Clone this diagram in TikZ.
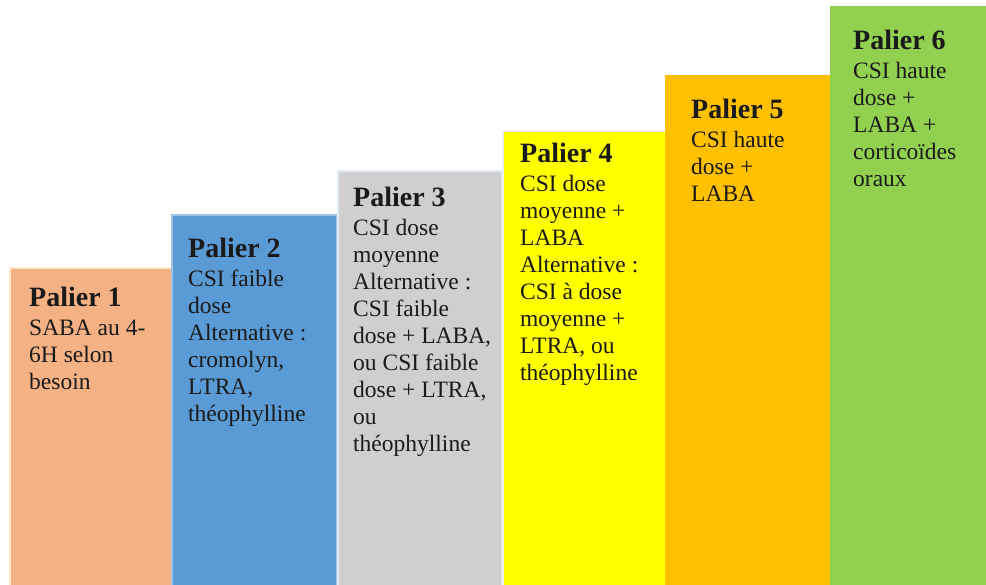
\documentclass[tikz,border=0pt]{standalone}
\usepackage{fontspec}
\setmainfont{Liberation Serif}
\usetikzlibrary{positioning}
\definecolor{pal1}{HTML}{F4B183}
\definecolor{pal2}{HTML}{5B9BD5}
\definecolor{pal3}{HTML}{D0CECE}
\definecolor{pal4}{HTML}{FFFF00}
\definecolor{pal5}{HTML}{FFC000}
\definecolor{pal6}{HTML}{92D050}
\definecolor{edge1}{HTML}{FCE9C8}
\definecolor{edge2}{HTML}{9DC3E6}
\definecolor{edge3}{HTML}{DEEBF7}
\definecolor{edge4}{HTML}{EFEFEF}
\definecolor{ink}{HTML}{1A1A1A}
\newcommand{\palier}[1]{{\fontsize{28}{29}\selectfont\bfseries Palier #1}\\[2pt]}

\begin{document}
\begin{tikzpicture}[x=1pt,y=-1pt,
    txt/.style={anchor=base west, align=left, inner sep=0pt, text=ink,
      font=\fontsize{23.5}{27}\selectfont}]
  \useasboundingbox (0,0) rectangle (986,585);
  % marches de l'escalier
  \foreach \l/\r/\t/\c/\e in {10/172/268/pal1/edge1, 172/337/215/pal2/edge2,
      338/502/171/pal3/edge3, 503/666/131/pal4/edge4,
      666/831/76/pal5/pal5, 831/986/7/pal6/pal6}
    \filldraw[fill=\c, draw=\e, line width=1.5pt] (\l,585) -- (\l,\t) -- (\r,\t) -- (\r,585);
  % textes (ancre sur la ligne de base de la derniere ligne)
  \node[txt] (p1) at (29,389.7) {\palier{1}SABA au 4-\\6H selon\\besoin};
  \node[txt] (p2) at (188,421.3) {\palier{2}CSI faible\\dose\\Alternative :\\cromolyn,\\LTRA,\\théophylline};
  \node[txt] (p3) at (353,451.7) {\palier{3}CSI dose\\moyenne\\Alternative :\\CSI faible\\dose + LABA,\\ou CSI faible\\dose + LTRA,\\ou\\théophylline};
  \node[txt] (p4) at (520,380.7) {\palier{4}CSI dose\\moyenne +\\LABA\\Alternative :\\CSI à dose\\moyenne +\\LTRA, ou\\théophylline};
  \node[txt] (p5) at (691,201.3) {\palier{5}CSI haute\\dose +\\LABA};
  \node[txt] (p6) at (853,186.3) {\palier{6}CSI haute\\dose +\\LABA +\\corticoïdes\\oraux};
\end{tikzpicture}
\end{document}
